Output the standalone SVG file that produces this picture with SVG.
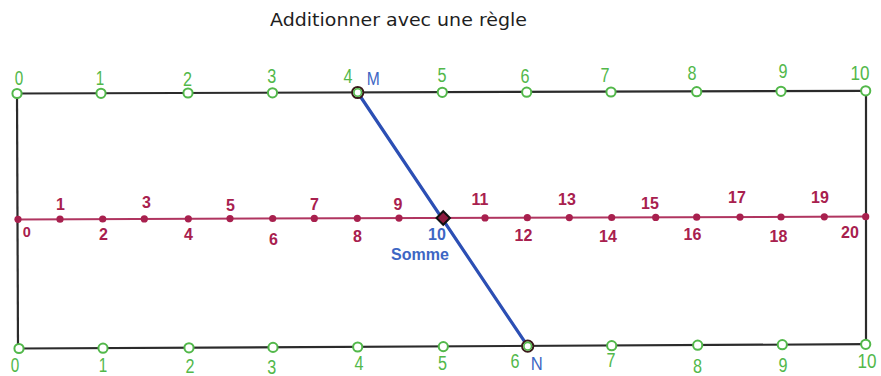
<svg xmlns="http://www.w3.org/2000/svg" xmlns:xlink="http://www.w3.org/1999/xlink" width="881" height="376" viewBox="0 0 881 376">
<style>
.frame{stroke:#2b2b2b;stroke-width:2.2;fill:none}
.red{stroke:#b03560;stroke-width:2;fill:none}
.ruler{stroke:#2c4fb4;stroke-width:3.2;fill:none;stroke-linecap:round}
.gl{font-family:"Liberation Sans",Arial,sans-serif;font-size:20.5px;fill:#52b84a;text-anchor:middle}
.rl{font-family:"Liberation Sans",Arial,sans-serif;font-size:16px;font-weight:bold;fill:#a8204e;text-anchor:middle}
.bl{font-family:"Liberation Sans",Arial,sans-serif;fill:#3d66c4;text-anchor:middle}
.title{font-family:"DejaVu Sans",sans-serif;font-size:17px;fill:#1e1e1e;text-anchor:middle}
</style>
<defs>
<circle id="gp" r="4.6" fill="#ffffff" stroke="#52b84a" stroke-width="2"/>
<circle id="rp" r="3.6" fill="#a8204e"/>
</defs>
<rect width="881" height="376" fill="#ffffff"/>
<g id="title"><text class="title" x="398.5" y="26" textLength="257" lengthAdjust="spacingAndGlyphs">Additionner avec une règle</text></g>
<g id="connectors">
<line class="frame" x1="17" y1="93.5" x2="866" y2="90.8"/>
<line class="frame" x1="18" y1="348.5" x2="866" y2="344.2"/>
<line class="frame" x1="17" y1="93.5" x2="18" y2="348.5"/>
<line class="frame" x1="866" y1="90.8" x2="866" y2="344.2"/>
<line class="red" x1="17" y1="219.4" x2="866" y2="216.6"/>
<line class="ruler" x1="357.7" y1="92.5" x2="527.7" y2="346.2"/>
</g>
<g id="top-scale">
<use xlink:href="#gp" x="17" y="93.5"/>
<use xlink:href="#gp" x="101" y="93.3"/>
<use xlink:href="#gp" x="188" y="93"/>
<use xlink:href="#gp" x="272.5" y="92.8"/>
<use xlink:href="#gp" x="442.3" y="92.3"/>
<use xlink:href="#gp" x="526.7" y="92.2"/>
<use xlink:href="#gp" x="611" y="92"/>
<use xlink:href="#gp" x="696.7" y="91.7"/>
<use xlink:href="#gp" x="781" y="91.3"/>
<use xlink:href="#gp" x="865.7" y="90.8"/>
<text class="gl" x="19" y="85" textLength="8.5" lengthAdjust="spacingAndGlyphs">0</text>
<text class="gl" x="100" y="85" textLength="8.5" lengthAdjust="spacingAndGlyphs">1</text>
<text class="gl" x="187.5" y="86" textLength="9" lengthAdjust="spacingAndGlyphs">2</text>
<text class="gl" x="271.7" y="83.3" textLength="9" lengthAdjust="spacingAndGlyphs">3</text>
<text class="gl" x="348" y="83.3" textLength="9" lengthAdjust="spacingAndGlyphs">4</text>
<text class="gl" x="442" y="81.7" textLength="9" lengthAdjust="spacingAndGlyphs">5</text>
<text class="gl" x="525" y="83.3" textLength="9" lengthAdjust="spacingAndGlyphs">6</text>
<text class="gl" x="605" y="81.7" textLength="9" lengthAdjust="spacingAndGlyphs">7</text>
<text class="gl" x="692" y="80" textLength="9" lengthAdjust="spacingAndGlyphs">8</text>
<text class="gl" x="783" y="78.3" textLength="9" lengthAdjust="spacingAndGlyphs">9</text>
<text class="gl" x="860" y="80" textLength="19" lengthAdjust="spacingAndGlyphs">10</text>
</g>
<g id="bottom-scale">
<use xlink:href="#gp" x="19" y="348.5"/>
<use xlink:href="#gp" x="103" y="348.2"/>
<use xlink:href="#gp" x="189" y="347.8"/>
<use xlink:href="#gp" x="273" y="347.4"/>
<use xlink:href="#gp" x="357.7" y="347"/>
<use xlink:href="#gp" x="443.3" y="346.6"/>
<use xlink:href="#gp" x="611.7" y="345.7"/>
<use xlink:href="#gp" x="697.7" y="345.2"/>
<use xlink:href="#gp" x="782.3" y="344.7"/>
<use xlink:href="#gp" x="865.7" y="344.3"/>
<text class="gl" x="15" y="372" textLength="8.5" lengthAdjust="spacingAndGlyphs">0</text>
<text class="gl" x="103" y="371.5" textLength="8.5" lengthAdjust="spacingAndGlyphs">1</text>
<text class="gl" x="190" y="372.5" textLength="9" lengthAdjust="spacingAndGlyphs">2</text>
<text class="gl" x="271.7" y="373.5" textLength="9" lengthAdjust="spacingAndGlyphs">3</text>
<text class="gl" x="359" y="370" textLength="9" lengthAdjust="spacingAndGlyphs">4</text>
<text class="gl" x="442.5" y="370" textLength="9" lengthAdjust="spacingAndGlyphs">5</text>
<text class="gl" x="515" y="368" textLength="9" lengthAdjust="spacingAndGlyphs">6</text>
<text class="gl" x="611" y="366.7" textLength="9" lengthAdjust="spacingAndGlyphs">7</text>
<text class="gl" x="697.5" y="372.5" textLength="9" lengthAdjust="spacingAndGlyphs">8</text>
<text class="gl" x="783" y="371.5" textLength="9" lengthAdjust="spacingAndGlyphs">9</text>
<text class="gl" x="867" y="368" textLength="19" lengthAdjust="spacingAndGlyphs">10</text>
</g>
<g id="middle-scale">
<use xlink:href="#rp" x="18" y="219.3"/>
<use xlink:href="#rp" x="60" y="219.2"/>
<use xlink:href="#rp" x="102.7" y="219"/>
<use xlink:href="#rp" x="144.3" y="218.9"/>
<use xlink:href="#rp" x="188.3" y="218.8"/>
<use xlink:href="#rp" x="230" y="218.6"/>
<use xlink:href="#rp" x="272.7" y="218.5"/>
<use xlink:href="#rp" x="314.3" y="218.4"/>
<use xlink:href="#rp" x="357.3" y="218.3"/>
<use xlink:href="#rp" x="399" y="218.1"/>
<use xlink:href="#rp" x="485" y="217.9"/>
<use xlink:href="#rp" x="527.3" y="217.7"/>
<use xlink:href="#rp" x="569.3" y="217.6"/>
<use xlink:href="#rp" x="611.7" y="217.5"/>
<use xlink:href="#rp" x="655.7" y="217.4"/>
<use xlink:href="#rp" x="696.7" y="217.2"/>
<use xlink:href="#rp" x="740" y="217.1"/>
<use xlink:href="#rp" x="781" y="217"/>
<use xlink:href="#rp" x="824.3" y="216.8"/>
<use xlink:href="#rp" x="865.7" y="216.7"/>
<text class="rl" x="60.5" y="209.5">1</text>
<text class="rl" x="146.5" y="207.5">3</text>
<text class="rl" x="230.5" y="211">5</text>
<text class="rl" x="314.5" y="209.5">7</text>
<text class="rl" x="398" y="209.5">9</text>
<text class="rl" x="480" y="204.5">11</text>
<text class="rl" x="567" y="204.5">13</text>
<text class="rl" x="650" y="208.5">15</text>
<text class="rl" x="737" y="203">17</text>
<text class="rl" x="820" y="203">19</text>
<text class="rl" x="26.7" y="236.5" style="font-size:14.5px">0</text>
<text class="rl" x="103.5" y="239.5">2</text>
<text class="rl" x="188.5" y="239.5">4</text>
<text class="rl" x="273.5" y="244.5">6</text>
<text class="rl" x="357.5" y="241.5">8</text>
<text class="rl" x="523.5" y="240.5">12</text>
<text class="rl" x="608" y="241.5">14</text>
<text class="rl" x="692.5" y="239.5">16</text>
<text class="rl" x="778.5" y="241.5">18</text>
<text class="rl" x="850" y="238">20</text>
</g>
<g id="ruler">
<circle cx="357.7" cy="92.5" r="5.6" fill="#ffffff" stroke="#3a1a1a" stroke-width="2"/>
<circle cx="357.7" cy="92.5" r="3.8" fill="#ffffff" stroke="#52b84a" stroke-width="1.6"/>
<circle cx="527.7" cy="346.2" r="5.6" fill="#ffffff" stroke="#3a1a1a" stroke-width="2"/>
<circle cx="527.7" cy="346.2" r="3.8" fill="#ffffff" stroke="#52b84a" stroke-width="1.6"/>
<text class="bl" x="373.3" y="85" style="font-size:18px" textLength="13" lengthAdjust="spacingAndGlyphs">M</text>
<text class="bl" x="536.7" y="370" style="font-size:18px" textLength="12" lengthAdjust="spacingAndGlyphs">N</text>
</g>
<g id="sum">
<rect x="438.5" y="213.3" width="9.5" height="9.5" fill="#8e1b3e" stroke="#111111" stroke-width="2" transform="rotate(45 443.3 218)"/>
<text class="bl" x="437" y="239.5" style="font-size:16px;font-weight:bold">10</text>
<text class="bl" x="420" y="259.5" style="font-size:16px;font-weight:bold">Somme</text>
</g>
</svg>
